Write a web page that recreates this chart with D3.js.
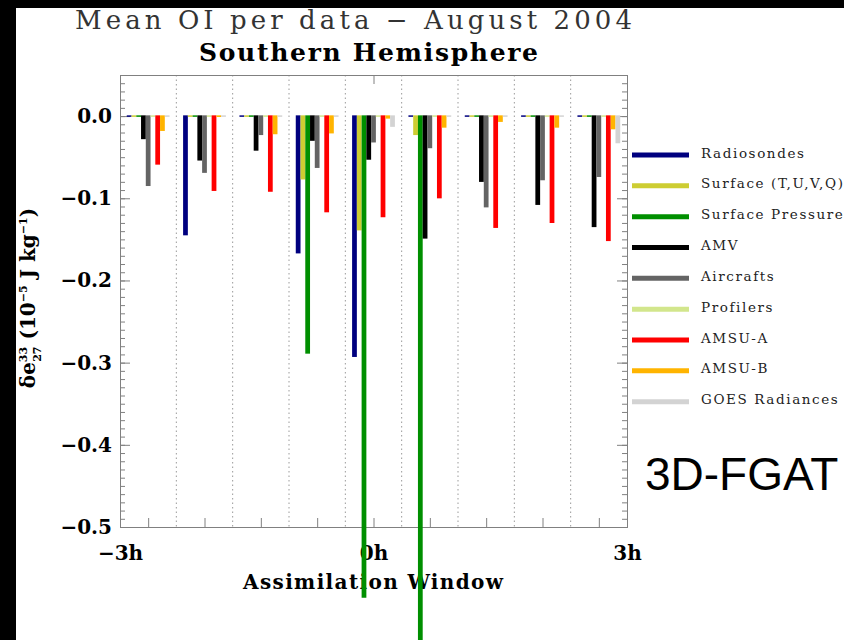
<!DOCTYPE html>
<html>
<head>
<meta charset="utf-8">
<script src="https://cdn.jsdelivr.net/npm/d3@7"></script>
<style>
	body { margin: 0; background: #000; }
	svg { display: block; }
	.axis path, .axis line { stroke: #808080; }
	.axis text { font-family: 'DejaVu Serif', serif; font-weight: bold; font-size: 20px; fill: #000; }
</style>
</head>
<body>
<div id="chart"></div>
<script>
// series, in drawing order inside each time slot
var series = ['Radiosondes', 'Surface (T,U,V,Q)', 'Surface Pressure', 'AMV', 'Aircrafts',
	'Profilers', 'AMSU-A', 'AMSU-B', 'GOES Radiances'];
var colors = ['#00007f', '#cdcd32', '#008f00', '#000000', '#646464',
	'#d2e68c', '#ff0000', '#ffb400', '#d3d3d3'];

// 9 slots of 40 min across the -3h..3h window
var slots = [0, 1, 2, 3, 4, 5, 6, 7, 8];

// mean observation impact per datum (10^-5 J/kg), one value per slot
var radiosondes = [0, -0.146, 0, -0.168, -0.294, 0, 0, 0, 0];
var surfaceTUVQ = [0, 0, 0, -0.078, -0.140, -0.024, 0, 0, 0];
var surfacePressure = [0, 0, 0, -0.290, -0.587, -0.700, 0, 0, 0];
var amv = [-0.029, -0.055, -0.043, -0.031, -0.054, -0.150, -0.081, -0.109, -0.136];
var aircrafts = [-0.086, -0.070, -0.024, -0.064, -0.033, -0.040, -0.112, -0.079, -0.075];
var profilers = [0, 0, 0, 0, 0, 0, 0, 0, 0];
var amsuA = [-0.060, -0.092, -0.093, -0.118, -0.124, -0.101, -0.137, -0.131, -0.153];
var amsuB = [-0.019, -0.002, -0.023, -0.022, -0.004, -0.015, -0.008, -0.015, -0.017];
var goes = [0, 0, 0, 0, -0.014, 0, 0, 0, -0.034];

var values = [radiosondes, surfaceTUVQ, surfacePressure, amv, aircrafts, profilers, amsuA, amsuB, goes];

var yTicks = [0, -0.1, -0.2, -0.3, -0.4, -0.5];
var xLabels = [-3, 0, 3];

var width = 844, height = 640;

var svg = d3.select('#chart').append('svg')
	.attr('width', width)
	.attr('height', height);

// black frame strips of the original slide
svg.append('rect').attr('width', width).attr('height', height).attr('fill', '#000');
svg.append('rect').attr('x', 16).attr('y', 8).attr('width', width - 16).attr('height', height - 8).attr('fill', '#fff');

var x = d3.scaleLinear().domain([-3, 3]).range([120, 627]);
var y = d3.scaleLinear().domain([-0.5, 0.05]).range([527, 75]);

var slotWidth = 6 / slots.length;
function slotCenter(i) { return -3 + (i + 0.5) * slotWidth; }

var inner = d3.scaleBand().domain(series).range([-21.4, 21.4]);

// dotted slot separators
svg.append('g').selectAll('line')
	.data(slots.slice(1))
	.enter().append('line')
	.attr('x1', function(d) { return x(-3 + d * slotWidth); })
	.attr('x2', function(d) { return x(-3 + d * slotWidth); })
	.attr('y1', y(0.05))
	.attr('y2', y(-0.5))
	.attr('stroke', '#9a9a9a')
	.attr('stroke-dasharray', '1.5,3');

// bars
var barsG = svg.append('g');
series.forEach(function(name, k) {
	barsG.append('g')
		.attr('fill', colors[k])
		.selectAll('rect')
		.data(values[k])
		.enter().append('rect')
		.attr('x', function(d, i) { return x(slotCenter(i)) + inner(name); })
		.attr('width', inner.bandwidth())
		.attr('y', y(0) - 0.75)
		.attr('height', function(d) { return Math.max(1.5, y(d) - y(0)); });
});

// axes
var minor = d3.range(-50, 6).map(function(d) { return d / 100; });

svg.append('g').attr('class', 'axis')
	.attr('transform', 'translate(120,0)')
	.call(d3.axisLeft(y).tickValues(minor).tickSize(-5).tickFormat(''));
svg.append('g').attr('class', 'axis')
	.attr('transform', 'translate(120,0)')
	.call(d3.axisLeft(y).tickValues(yTicks).tickSize(-10).tickPadding(8).tickFormat(d3.format('.1f')))
	.call(function(g) { g.selectAll('text').attr('x', -8); });

svg.append('g').attr('class', 'axis')
	.attr('transform', 'translate(627,0)')
	.call(d3.axisRight(y).tickValues(minor).tickSize(-5).tickFormat(''));
svg.append('g').attr('class', 'axis')
	.attr('transform', 'translate(627,0)')
	.call(d3.axisRight(y).tickValues(yTicks).tickSize(-10).tickFormat(''));

svg.append('g').attr('class', 'axis')
	.attr('transform', 'translate(0,527)')
	.call(d3.axisBottom(x).tickValues(slots.map(slotCenter)).tickSize(-9).tickFormat(''));
svg.append('g').attr('class', 'axis')
	.attr('transform', 'translate(0,527)')
	.call(d3.axisBottom(x).tickValues(xLabels).tickSize(0).tickPadding(19)
		.tickFormat(function(d) { return (d < 0 ? '\u2212' : '') + Math.abs(d) + 'h'; }))
	.call(function(g) { g.select('.domain').remove(); });

svg.append('g').attr('class', 'axis')
	.attr('transform', 'translate(0,75)')
	.call(d3.axisTop(x).tickValues([0]).tickSize(-9).tickFormat(''))
	.call(function(g) { g.selectAll('.tick line').attr('stroke', '#000'); });

// titles
svg.append('text')
	.attr('x', 75).attr('y', 29)
	.attr('textLength', 557).attr('lengthAdjust', 'spacing')
	.style('font-family', "'DejaVu Serif', serif")
	.style('font-size', '26px')
	.style('fill', '#333')
	.text('Mean OI per data \u2212 August 2004');

svg.append('text')
	.attr('x', 199).attr('y', 61)
	.attr('textLength', 339).attr('lengthAdjust', 'spacing')
	.style('font-family', "'DejaVu Serif', serif")
	.style('font-weight', 'bold')
	.style('font-size', '25px')
	.text('Southern Hemisphere');

svg.append('text')
	.attr('x', 243).attr('y', 589)
	.attr('textLength', 260).attr('lengthAdjust', 'spacing')
	.style('font-family', "'DejaVu Serif', serif")
	.style('font-weight', 'bold')
	.style('font-size', '20px')
	.text('Assimilation Window');

// y axis label
var yl = svg.append('text')
	.attr('transform', 'translate(35,298) rotate(-90)')
	.attr('text-anchor', 'middle')
	.style('font-family', "'DejaVu Serif', serif")
	.style('font-weight', 'bold')
	.style('font-size', '20px');
yl.append('tspan').text('\u03b4e');
yl.append('tspan').attr('dy', -8).style('font-size', '11px').text('33');
yl.append('tspan').attr('dx', -15).attr('dy', 14).style('font-size', '11px').text('27');
yl.append('tspan').attr('dy', -6).text(' (10');
yl.append('tspan').attr('dy', -8).style('font-size', '11px').text('\u22125');
yl.append('tspan').attr('dy', 8).text(' J kg');
yl.append('tspan').attr('dy', -8).style('font-size', '11px').text('\u22121');
yl.append('tspan').attr('dy', 8).text(')');

// legend
var ly = d3.scalePoint().domain(series).range([155, 401.7]);
var legend = svg.append('g');
legend.selectAll('line')
	.data(series)
	.enter().append('line')
	.attr('x1', 632).attr('x2', 689)
	.attr('y1', function(d) { return ly(d); })
	.attr('y2', function(d) { return ly(d); })
	.attr('stroke', function(d, i) { return colors[i]; })
	.attr('stroke-width', 5);
legend.selectAll('text')
	.data(series)
	.enter().append('text')
	.attr('x', 701)
	.attr('y', function(d) { return ly(d) + 2.5; })
	.style('font-family', "'DejaVu Serif', serif")
	.style('font-size', '13.5px')
	.style('letter-spacing', '1.6px')
	.style('fill', '#222')
	.text(function(d) { return d; });

svg.append('text')
	.attr('x', 645).attr('y', 490)
	.style('font-family', "'Liberation Sans', Arial, sans-serif")
	.style('font-size', '46px')
	.text('3D-FGAT');

// the long bars run over the axis and its title, as in the original
barsG.raise();
</script>
</body>
</html>
